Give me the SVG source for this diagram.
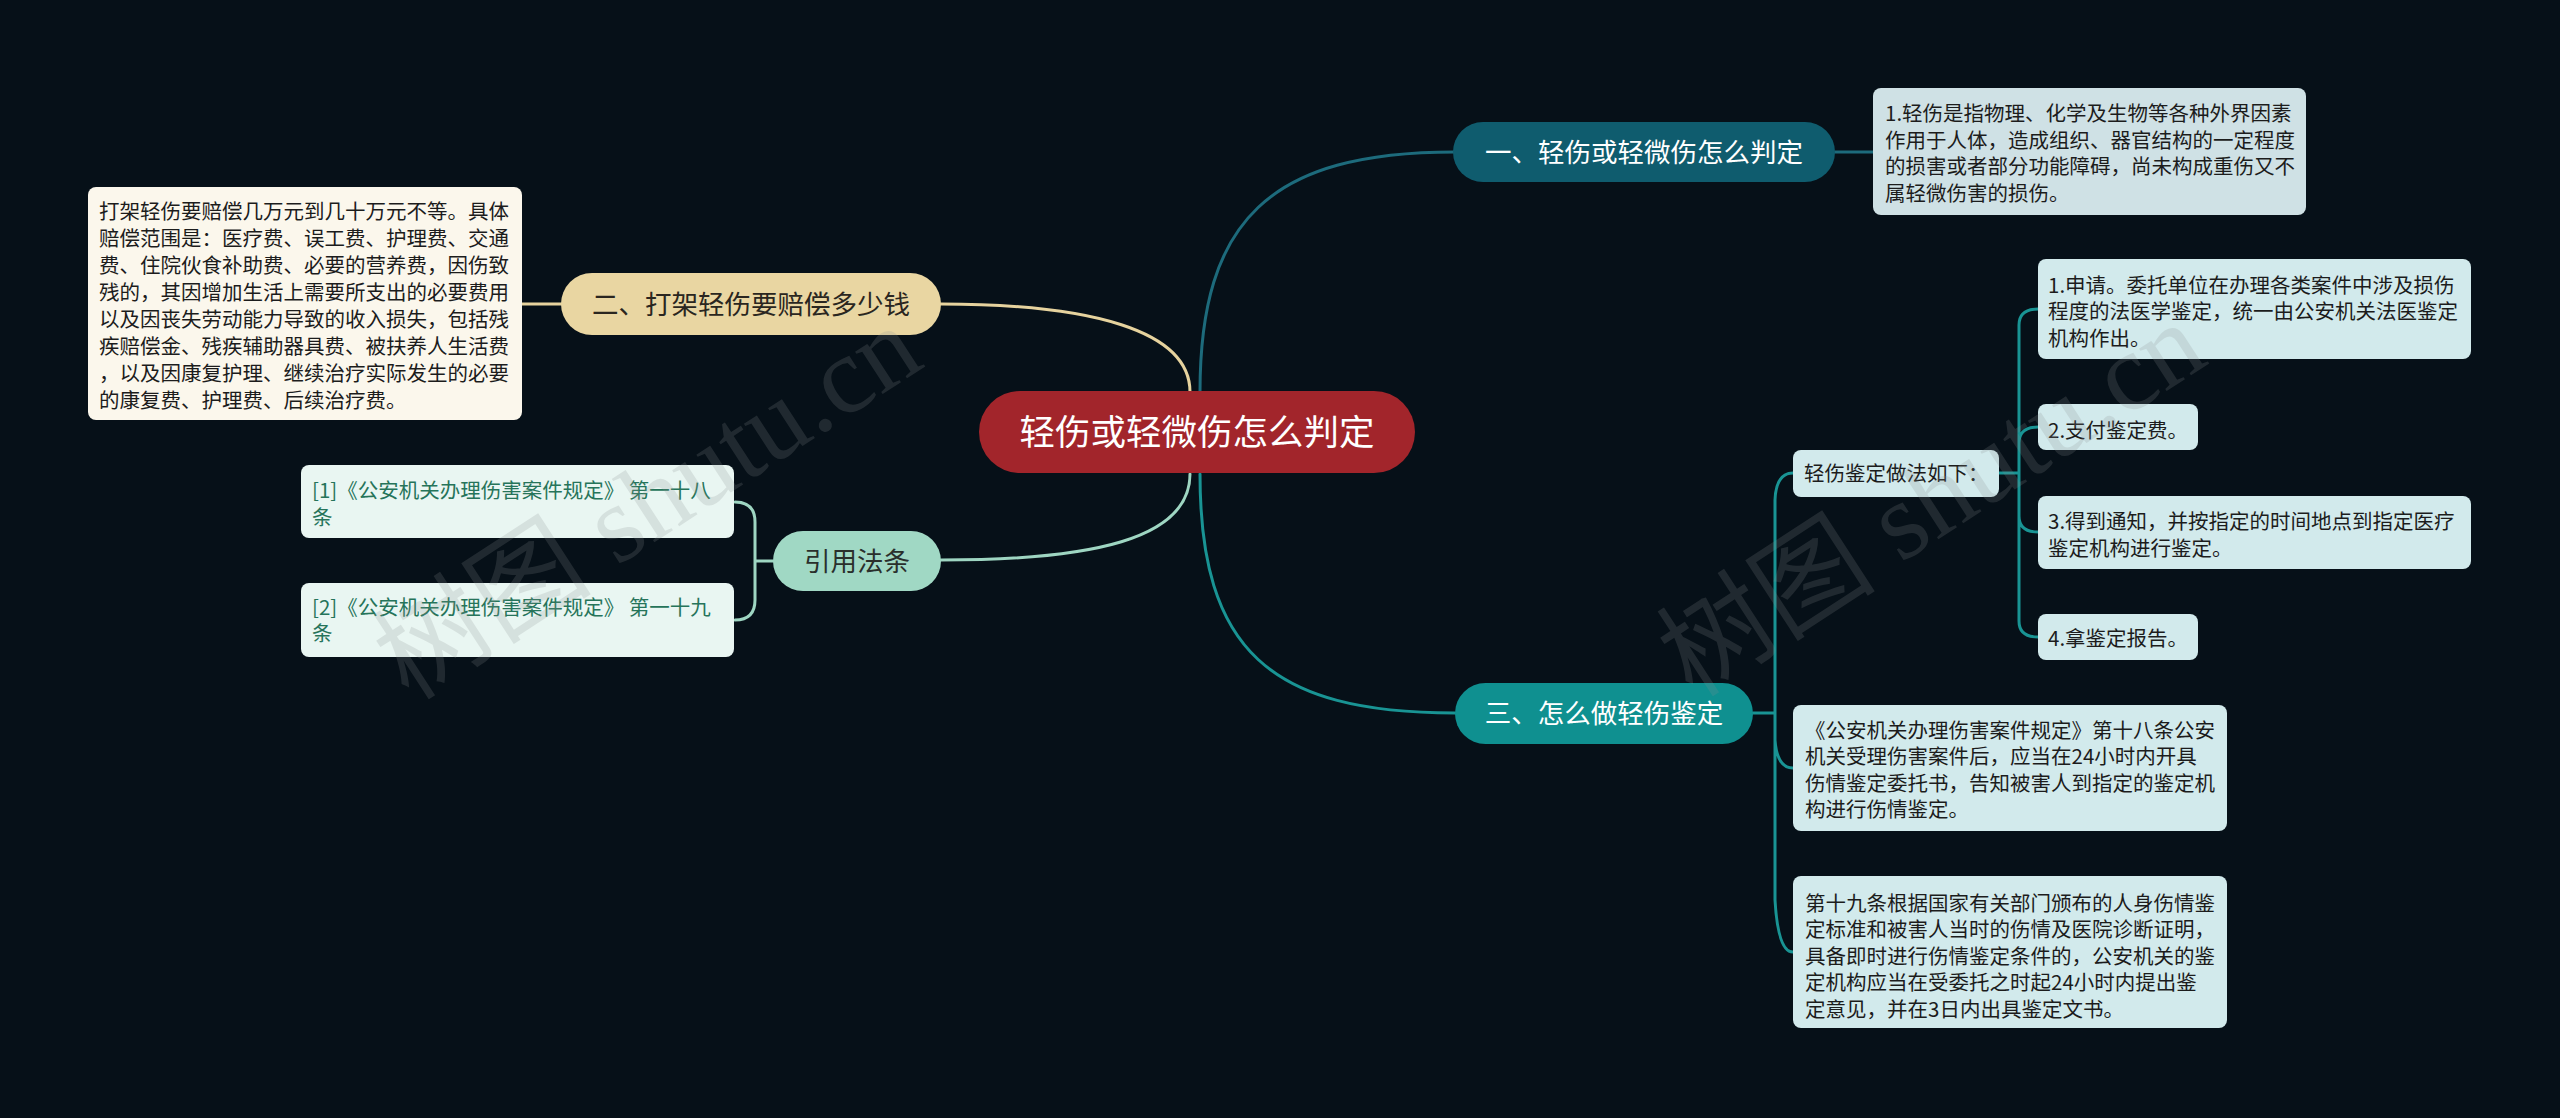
<svg xmlns="http://www.w3.org/2000/svg" width="2560" height="1118" viewBox="0 0 2560 1118">
<style>
text{font-family:"Noto Sans CJK SC","Noto Sans",sans-serif}
.con{fill:none;stroke-width:3;stroke-linecap:round}
.c1{stroke:#1d6b7c}.c2{stroke:#e6d39e}.c3{stroke:#9ed6c2}.c4{stroke:#199494}
.lt{font-size:20.5px;fill:#1c1c1c}
.rt{font-size:20.5px;fill:#26745a}
.bt{font-size:26.5px;text-anchor:middle}
.wm{font-family:"Liberation Serif","Noto Sans CJK SC",serif;font-size:110px;fill:#8a8f90;opacity:0.2}
</style>
<rect width="2560" height="1118" fill="#061018"/>
<g id="connectors">
<path class="con c1" d="M1200,392 C1200,220 1270,152 1455,152"/>
<path class="con c1" d="M1835,152 H1873"/>
<path class="con c2" d="M941,304 C1090,304 1190,330 1190,392"/>
<path class="con c2" d="M522,304 H562"/>
<path class="con c3" d="M941,560 C1090,560 1190,540 1190,474"/>
<path class="con c3" d="M773,561 H755 M755,561 V522 Q755,502 735,502 M755,561 V600 Q755,620 735,620"/>
<path class="con c4" d="M1200,474 C1200,650 1270,713 1455,713"/>
<path class="con c4" d="M1753,713 H1775 M1775,713 V500 Q1776,473 1793,473 M1775,713 V740 Q1777,768 1793,768 M1775,713 V900 Q1778,952 1793,952"/>
<path class="con c4" d="M1999,473 H2019 M2019,473 V325 Q2019,309 2038,309 M2019,473 V443 Q2019,427 2038,427 M2019,473 V516 Q2019,532 2038,532 M2019,473 V621 Q2019,637 2038,637"/>
</g>
<g id="root">
<rect x="979" y="391" width="436" height="82" rx="41" fill="#a2252b"/>
<text x="1197" y="445" font-size="35.5" fill="#ffffff" text-anchor="middle">轻伤或轻微伤怎么判定</text>
</g>
<g id="b1">
<rect x="1453" y="122" width="382" height="60" rx="30" fill="#0f5c6e"/>
<text class="bt" x="1644" y="162" fill="#ffffff">一、轻伤或轻微伤怎么判定</text>
</g>
<g id="b1-leaf">
<rect x="1873" y="88" width="433" height="127" rx="8" fill="#cfe1e5"/>
<text class="lt" x="1885" y="121">1.轻伤是指物理、化学及生物等各种外界因素</text>
<text class="lt" x="1885" y="147.5">作用于人体，造成组织、器官结构的一定程度</text>
<text class="lt" x="1885" y="174">的损害或者部分功能障碍，尚未构成重伤又不</text>
<text class="lt" x="1885" y="200.5">属轻微伤害的损伤。</text>
</g>
<g id="b2">
<rect x="561" y="273" width="380" height="62" rx="31" fill="#e9d6a2"/>
<text class="bt" x="751" y="314" fill="#2a2620">二、打架轻伤要赔偿多少钱</text>
</g>
<g id="b2-leaf">
<rect x="88" y="187" width="434" height="233" rx="8" fill="#fbf7ec"/>
<text class="lt" x="99" y="219">打架轻伤要赔偿几万元到几十万元不等。具体</text>
<text class="lt" x="99" y="246">赔偿范围是：医疗费、误工费、护理费、交通</text>
<text class="lt" x="99" y="273">费、住院伙食补助费、必要的营养费，因伤致</text>
<text class="lt" x="99" y="300">残的，其因增加生活上需要所支出的必要费用</text>
<text class="lt" x="99" y="327">以及因丧失劳动能力导致的收入损失，包括残</text>
<text class="lt" x="99" y="354">疾赔偿金、残疾辅助器具费、被扶养人生活费</text>
<text class="lt" x="99" y="381">，以及因康复护理、继续治疗实际发生的必要</text>
<text class="lt" x="99" y="408">的康复费、护理费、后续治疗费。</text>
</g>
<g id="b3">
<rect x="773" y="531" width="168" height="60" rx="30" fill="#a0d8c4"/>
<text class="bt" x="857" y="571" fill="#2a2f2c">引用法条</text>
</g>
<g id="ref1">
<rect x="301" y="465" width="433" height="73" rx="8" fill="#e9f6f2"/>
<text class="rt" x="312" y="497.5">[1]《公安机关办理伤害案件规定》 第一十八</text>
<text class="rt" x="312" y="524.5">条</text>
</g>
<g id="ref2">
<rect x="301" y="583" width="433" height="74" rx="8" fill="#e9f6f2"/>
<text class="rt" x="312" y="614.5">[2]《公安机关办理伤害案件规定》 第一十九</text>
<text class="rt" x="312" y="641">条</text>
</g>
<g id="b4">
<rect x="1455" y="683" width="298" height="61" rx="30.5" fill="#0f9090"/>
<text class="bt" x="1604" y="723" fill="#ffffff">三、怎么做轻伤鉴定</text>
</g>
<g id="b4-steps">
<rect x="1793" y="450" width="206" height="47" rx="8" fill="#d2eaec"/>
<text class="lt" x="1804" y="480.5">轻伤鉴定做法如下：</text>
</g>
<g id="step1">
<rect x="2038" y="259" width="433" height="100" rx="8" fill="#d2eaec"/>
<text class="lt" x="2048" y="292.5">1.申请。委托单位在办理各类案件中涉及损伤</text>
<text class="lt" x="2048" y="319">程度的法医学鉴定，统一由公安机关法医鉴定</text>
<text class="lt" x="2048" y="345.5">机构作出。</text>
</g>
<g id="step2">
<rect x="2038" y="404" width="160" height="46" rx="8" fill="#d2eaec"/>
<text class="lt" x="2048" y="437.5">2.支付鉴定费。</text>
</g>
<g id="step3">
<rect x="2038" y="496" width="433" height="73" rx="8" fill="#d2eaec"/>
<text class="lt" x="2048" y="529">3.得到通知，并按指定的时间地点到指定医疗</text>
<text class="lt" x="2048" y="555.5">鉴定机构进行鉴定。</text>
</g>
<g id="step4">
<rect x="2038" y="614" width="160" height="46" rx="8" fill="#d2eaec"/>
<text class="lt" x="2048" y="645.5">4.拿鉴定报告。</text>
</g>
<g id="law18">
<rect x="1793" y="705" width="434" height="126" rx="8" fill="#d2eaec"/>
<text class="lt" x="1805" y="737.5">《公安机关办理伤害案件规定》第十八条公安</text>
<text class="lt" x="1805" y="764">机关受理伤害案件后，应当在24小时内开具</text>
<text class="lt" x="1805" y="790.5">伤情鉴定委托书，告知被害人到指定的鉴定机</text>
<text class="lt" x="1805" y="817">构进行伤情鉴定。</text>
</g>
<g id="law19">
<rect x="1793" y="876" width="434" height="152" rx="8" fill="#d2eaec"/>
<text class="lt" x="1805" y="910.5">第十九条根据国家有关部门颁布的人身伤情鉴</text>
<text class="lt" x="1805" y="937">定标准和被害人当时的伤情及医院诊断证明，</text>
<text class="lt" x="1805" y="963.5">具备即时进行伤情鉴定条件的，公安机关的鉴</text>
<text class="lt" x="1805" y="990">定机构应当在受委托之时起24小时内提出鉴</text>
<text class="lt" x="1805" y="1016.5">定意见，并在3日内出具鉴定文书。</text>
</g>
<g id="watermark">
<text class="wm" x="646" y="540" text-anchor="middle" transform="rotate(-33 646 500)">树图 shutu.cn</text>
<text class="wm" x="1930" y="537" text-anchor="middle" transform="rotate(-33 1930 497)">树图 shutu.cn</text>
</g>
</svg>
